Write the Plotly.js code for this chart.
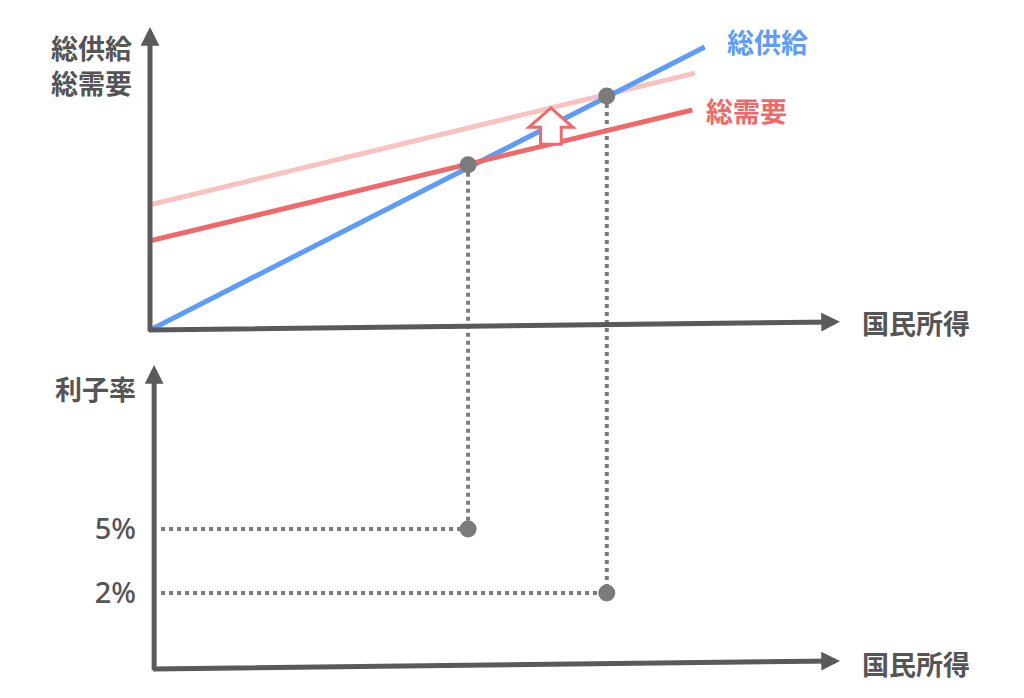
<!DOCTYPE html>
<html>
<head>
<meta charset="utf-8">
<script src="https://cdn.plot.ly/plotly-3.0.1.min.js"></script>
<style>
  html, body { margin: 0; padding: 0; background: #fff; }
  #chart { width: 1024px; height: 698px; }
</style>
</head>
<body>
<div id="chart"></div>
<script>
// values (income 0..10, output 0..10, rate in %)
const supplyX = [0, 8.04];
const supplyY = [0, 9.34];
const demandX = [0, 7.86];
const demandY = [2.94, 7.26];
const demandNewX = [0, 7.9];
const demandNewY = [4.13, 8.48];
const eqIncome = [4.61, 6.62];
const eqOutput = [5.45, 7.72];
const rates = [5, 2];
const rateLabels = ['5%', '2%'];
const arrowIncome = 5.81;

const grey = '#5a5a5a';
const dotGrey = '#7b7b7b';
const textGrey = '#555555';
const blue = '#5e9cf5';
const red = '#f0696a';
const pink = '#f9c2c1';
const font = '"Noto Sans CJK JP", "Noto Sans", sans-serif';

const xDom = [150 / 1024, 840 / 1024];
const topDom = [1 - 330 / 698, 1 - 27 / 698];
const botDom = [1 - 669 / 698, 1 - 365 / 698];
const xRange = [0, 10];
const topRange = [0, 10];
const botRange = [-1.56, 12.69];

function toPaper(v, dom, rng) {
  return dom[0] + (v - rng[0]) / (rng[1] - rng[0]) * (dom[1] - dom[0]);
}

function lineAt(xs, ys, x) {
  return ys[0] + (x - xs[0]) * (ys[1] - ys[0]) / (xs[1] - xs[0]);
}

const lineTrace = (x, y, color) => ({
  x: x, y: y, mode: 'lines', type: 'scatter',
  line: { color: color, width: 5 },
  hoverinfo: 'skip', xaxis: 'x', yaxis: 'y',
});

const data = [
  lineTrace(demandNewX, demandNewY, pink),
  lineTrace(supplyX, supplyY, blue),
  lineTrace(demandX, demandY, red),
];

// horizontal dotted guides in the lower panel
eqIncome.forEach((inc, i) => {
  data.push({
    x: [0.16, inc], y: [rates[i], rates[i]],
    mode: 'lines', type: 'scatter',
    line: { color: dotGrey, width: 4, dash: 'dot' },
    hoverinfo: 'skip', xaxis: 'x2', yaxis: 'y2',
  });
});

data.push({
  x: eqIncome, y: eqOutput, mode: 'markers', type: 'scatter',
  marker: { color: dotGrey, size: 17 },
  hoverinfo: 'skip', xaxis: 'x', yaxis: 'y',
});
data.push({
  x: eqIncome, y: rates, mode: 'markers', type: 'scatter',
  marker: { color: dotGrey, size: 17 },
  hoverinfo: 'skip', xaxis: 'x2', yaxis: 'y2',
});

// vertical dotted guides running from the upper point down to the lower one
const shapes = eqIncome.map((inc, i) => ({
  type: 'line', xref: 'x', yref: 'paper', layer: 'below',
  x0: inc, x1: inc,
  y0: toPaper(eqOutput[i], topDom, topRange),
  y1: toPaper(rates[i], botDom, botRange),
  line: { color: dotGrey, width: 4, dash: 'dot' },
}));

// hollow up arrow: demand shift
const baseY = lineAt(demandX, demandY, arrowIncome);
const tipY = lineAt(demandNewX, demandNewY, arrowIncome);
const headY = tipY - 0.64;
const hw = 0.32, sw = 0.15;
const a = arrowIncome;
shapes.push({
  type: 'path', xref: 'x', yref: 'y', layer: 'above',
  path: `M${a - sw},${baseY} L${a - sw},${headY} L${a - hw},${headY} L${a},${tipY} ` +
        `L${a + hw},${headY} L${a + sw},${headY} L${a + sw},${baseY} Z`,
  fillcolor: '#ffffff',
  line: { color: red, width: 3 },
});

const axisArrow = (xr, yr, x, y, ax, ay) => ({
  xref: xr, yref: yr, axref: xr, ayref: yr,
  x: x, y: y, ax: ax, ay: ay, text: '',
  showarrow: true, arrowhead: 2, arrowsize: 0.75, arrowwidth: 5,
  arrowcolor: grey, standoff: 0,
});

const label = (text, x, y, color, xanchor, weight) => ({
  xref: 'paper', yref: 'paper', x: x / 1024, y: 1 - y / 698,
  text: text, showarrow: false, xanchor: xanchor, yanchor: 'middle',
  font: { family: font, size: 27, color: color, weight: weight || 700 },
});

const annotations = [
  axisArrow('x', 'y', 0, topRange[1], 0, -0.09),
  axisArrow('x', 'y', xRange[1], 0.27, -0.04, 0),
  axisArrow('x2', 'y2', 0.06, botRange[1], 0.06, botRange[0] - 0.12),
  axisArrow('x2', 'y2', xRange[1], botRange[0] + 0.38, 0.02, botRange[0]),
  label('総供給<br>総需要', 134, 65, textGrey, 'right'),
  label('総供給', 725, 42, blue, 'left'),
  label('総需要', 704, 110, red, 'left'),
  label('国民所得', 860, 322, textGrey, 'left'),
  label('利子率', 138, 388, textGrey, 'right'),
  label('国民所得', 860, 663, textGrey, 'left'),
];

const hidden = {
  showgrid: false, zeroline: false, showline: false,
  ticks: '', showticklabels: false, fixedrange: true,
};

const layout = {
  width: 1024,
  height: 698,
  margin: { t: 0, b: 0, l: 0, r: 0 },
  paper_bgcolor: '#ffffff',
  plot_bgcolor: 'rgba(0,0,0,0)',
  showlegend: false,
  xaxis: Object.assign({}, hidden, { domain: xDom, range: xRange, anchor: 'y' }),
  yaxis: Object.assign({}, hidden, { domain: topDom, range: topRange, anchor: 'x' }),
  xaxis2: Object.assign({}, hidden, { domain: xDom, range: xRange, anchor: 'y2' }),
  yaxis2: Object.assign({}, hidden, {
    domain: botDom, range: botRange, anchor: 'x2',
    showticklabels: true, tickmode: 'array',
    tickvals: rates, ticktext: rateLabels,
    ticklabelstandoff: 13,
    tickfont: { family: '"Noto Sans", sans-serif', size: 29, color: textGrey, weight: 500 },
  }),
  shapes: shapes,
  annotations: annotations,
};

Plotly.newPlot('chart', data, layout, { displayModeBar: false, staticPlot: true });
</script>
</body>
</html>
